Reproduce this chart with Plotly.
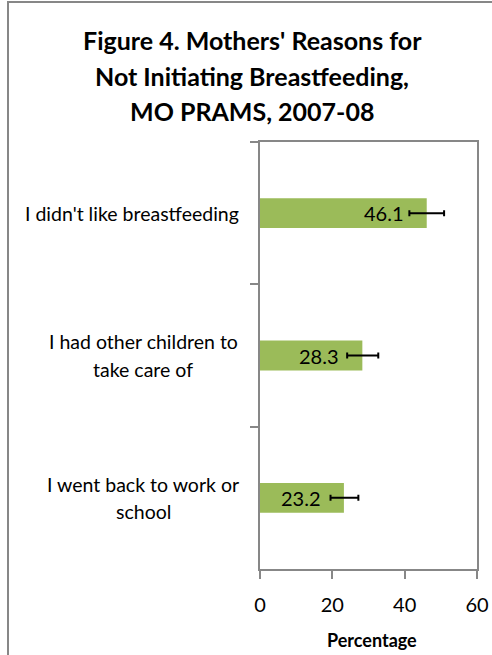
import plotly.graph_objects as go

categories = ["I didn't like breastfeeding", "I had other children to<br>take care of", "I went back to work or<br>school"]
values = [46.1, 28.3, 23.2]
ci_plus = [4.8, 4.4, 4.0]
ci_minus = [4.8, 4.2, 3.7]
x_ticks = [0, 20, 40, 60]
title_lines = ["Figure 4. Mothers' Reasons for", "Not Initiating Breastfeeding,", "MO PRAMS, 2007-08"]

FONT = "Lato"
GRAY = "#878787"
L, R, T, B = 260, 15, 142, 86
W, H = 492, 655
pw = W - L - R
ph = H - T - B
LINE_GAP = 27.5

def px_x(p):
    return (p - L) / pw

def px_y(p):
    return (H - B - p) / ph

fig = go.Figure()
fig.add_trace(go.Bar(
    y=categories, x=values, orientation="h",
    marker=dict(color="#9BBB59", line=dict(width=0)),
    error_x=dict(type="data", symmetric=False, array=ci_plus, arrayminus=ci_minus,
                 color="black", thickness=2, width=3),
    hoverinfo="skip",
))

annotations = []
for c, v in zip(categories, values):
    annotations.append(dict(x=v, y=c, xref="x", yref="y", text=f"{v:.1f}", showarrow=False,
                            xanchor="right", xshift=-21, yshift=0,
                            font=dict(family=FONT, size=20, color="black")))
    lines = c.split("<br>")
    n = len(lines)
    widest = max(len(s) for s in lines)
    for i, s in enumerate(lines):
        shift = (n - 1) / 2 * LINE_GAP - i * LINE_GAP
        annotations.append(dict(x=px_x(241), y=c, xref="paper", yref="y", text=s, showarrow=False,
                                xanchor="right" if n == 1 else "center",
                                xshift=0 if n == 1 else 0, yshift=shift,
                                font=dict(family=FONT, size=19.5, color="black")))

# center multi-line labels on a common axis (block right edge at 241px)
centers = {}
for a in annotations:
    pass

for line, yc in zip(title_lines, [40, 76, 111]):
    annotations.append(dict(x=px_x(252), y=px_y(yc), xref="paper", yref="paper",
                            text=f"<b>{line}</b>", showarrow=False,
                            xanchor="center", yanchor="middle",
                            font=dict(family=FONT, size=25, color="black")))

annotations.append(dict(x=px_x(372), y=px_y(640), xref="paper", yref="paper",
                        text="<b>Percentage</b>", showarrow=False,
                        xanchor="center", yanchor="middle",
                        font=dict(family=FONT, size=18, color="black")))

# multi-line category labels: centre of block at 143px (block right edge ~241px)
for a in annotations:
    if a.get("xanchor") == "center" and a.get("yref") == "y":
        a["x"] = px_x(143)

fig.update_layout(
    width=W, height=H,
    margin=dict(l=L, r=R, t=T, b=B, autoexpand=False),
    paper_bgcolor="white", plot_bgcolor="white",
    bargap=0.79,
    showlegend=False,
    annotations=annotations,
    shapes=[dict(type="rect", xref="paper", yref="paper",
                 x0=px_x(8), x1=px_x(500), y0=px_y(2), y1=px_y(665),
                 line=dict(color=GRAY, width=2), fillcolor="rgba(0,0,0,0)", layer="below")],
    xaxis=dict(range=[0, 60], tickvals=x_ticks, ticks="outside", ticklen=8, tickcolor=GRAY,
               tickwidth=2, showline=True, linecolor=GRAY, linewidth=2, mirror=True,
               showgrid=False, zeroline=False, automargin=False, ticklabelstandoff=9,
               tickfont=dict(family=FONT, size=20, color="black")),
    yaxis=dict(categoryorder="array", categoryarray=categories, autorange="reversed",
               showticklabels=False, ticks="outside", tickson="boundaries", ticklen=8,
               tickcolor=GRAY, tickwidth=2, showline=True, linecolor=GRAY, linewidth=2,
               mirror=True, showgrid=False, automargin=False),
)

fig.write_html("out.html", config={"displayModeBar": False},
               post_script="document.body.style.margin='0';document.body.style.overflow='hidden';")
